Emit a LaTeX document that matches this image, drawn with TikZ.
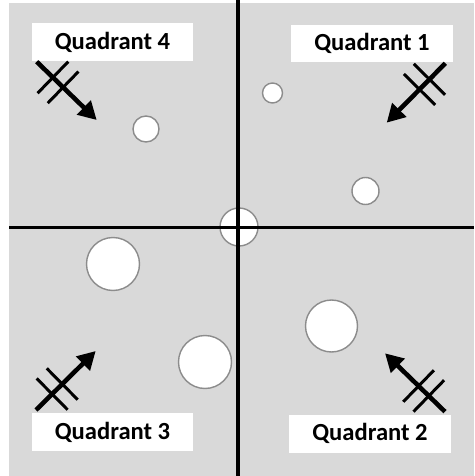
\documentclass[tikz,border=0pt]{standalone}
\usepackage{fontspec}
\setmainfont{Carlito}
\usepackage{tikz}
\usetikzlibrary{positioning, arrows.meta, calc}

\begin{document}
\begin{tikzpicture}[
    x=0.02cm, y=-0.02cm,
    >={Triangle[length=0.36cm, width=0.38cm]},
    axis/.style={
        line width=2pt,
        black,
    },
    hole/.style={
        circle,
        fill=white,
        draw=gray!90,
        line width=0.8pt,
        inner sep=0pt,
    },
    quad label/.style={
        fill=white,
        minimum width=3.24cm,
        minimum height=0.76cm,
        inner sep=0pt,
        font=\fontsize{14}{16}\selectfont\bfseries,
    },
    push/.style={
        ->,
        line width=2.6pt,
    },
    tick/.style={
        line width=1.7pt,
    },
]

% --- Background ---
\useasboundingbox (0,0) rectangle (474,476);
\fill[gray!30] (9,3) rectangle (474,476);

% --- Holes ---
\node[hole, minimum size=0.76cm] (c0) at (239,227) {};
\node[hole, minimum size=0.52cm] (c4) at (146,129) {};
\node[hole, minimum size=0.40cm] (c1a) at (272.5,93) {};
\node[hole, minimum size=0.54cm] (c1b) at (365.5,191) {};
\node[hole, minimum size=1.06cm] (c3a) at (113,264) {};
\node[hole, minimum size=1.06cm] (c3b) at (205,362) {};
\node[hole, minimum size=1.04cm] (c2) at (331.5,326) {};

% --- Axes ---
\coordinate (top) at (238,0);
\coordinate (bottom) at (238,476);
\coordinate (left) at (9,227.5);
\coordinate (right) at (474,227.5);
\draw[axis] (top) -- (bottom);
\draw[axis] (left) -- (right);

% --- Quadrant labels ---
\node[quad label] (q4) at (112.5,42) {Quadrant 4};
\node[quad label] (q1) at (372,43.5) {Quadrant 1};
\node[quad label] (q3) at (112.5,432) {Quadrant 3};
\node[quad label] (q2) at (370,433.5) {Quadrant 2};

% --- Crossed arrows ---
\foreach \n/\tx/\ty/\hx/\hy in {4/36.7/61.7/96.7/120, 1/445.3/63.3/386.7/122.7,
        3/36/410/95.7/351, 2/445/411.7/385/353.3} {
    \coordinate (tail\n) at (\tx,\ty);
    \coordinate (head\n) at (\hx,\hy);
    \draw[push] (tail\n) -- (head\n);
    \foreach \f in {0.27, 0.44} {
        \coordinate (m) at ($(tail\n)!\f!(head\n)$);
        \draw[tick] ($(m)!0.44cm!90:(head\n)$) -- ($(m)!0.44cm!-90:(head\n)$);
    }
}

\end{tikzpicture}
\end{document}
